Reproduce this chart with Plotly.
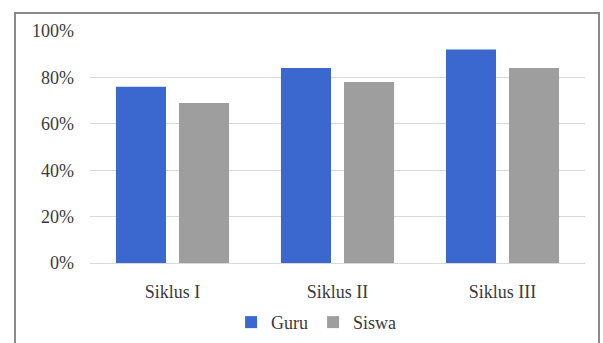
import plotly.graph_objects as go

categories = ["Siklus I", "Siklus II", "Siklus III"]
guru = [76, 84, 92]
siswa = [69, 78, 84]
tick_vals = [0, 20, 40, 60, 80, 100]
tick_text = ["0%", "20%", "40%", "60%", "80%", "100%"]

font_family = "'Times New Roman', 'Liberation Serif', serif"
text_color = "#3a3a3a"
fnt = dict(family=font_family, size=18, color=text_color)

fig = go.Figure()
fig.add_trace(go.Bar(name="Guru", x=categories, y=guru, marker=dict(color="#3b68cf", line=dict(width=0))))
fig.add_trace(go.Bar(name="Siswa", x=categories, y=siswa, marker=dict(color="#9e9e9e", line=dict(width=0))))

fig.update_layout(
    width=603, height=343,
    margin=dict(l=90, r=18, t=31, b=80, autoexpand=False),
    paper_bgcolor="white", plot_bgcolor="white",
    barmode="group", bargap=0.236, bargroupgap=0.206,
    font=fnt,
    showlegend=True,
    legend=dict(orientation="h", xref="container", yref="container",
                x=0.525, xanchor="center", y=0.06, yanchor="middle",
                font=fnt, itemwidth=30, traceorder="normal"),
    xaxis=dict(showgrid=False, showline=False, ticks="", zeroline=False,
               automargin=False, ticklabelstandoff=16, tickfont=fnt),
    yaxis=dict(range=[0, 100], tickvals=tick_vals, ticktext=tick_text,
               showgrid=True, gridcolor="#d9d9d9", gridwidth=1,
               zeroline=True, zerolinecolor="#d9d9d9", zerolinewidth=1,
               showline=False, ticks="", ticklabelstandoff=15,
               automargin=False, tickfont=fnt),
    shapes=[dict(type="rect", xref="paper", yref="paper",
                 x0=(15 - 90) / 495, x1=(599 - 90) / 495,
                 y0=-0.6, y1=(263 - 13) / 232,
                 line=dict(color="#8a8a8a", width=2), fillcolor="rgba(0,0,0,0)",
                 layer="below")],
)

fig.write_html("out.html")
